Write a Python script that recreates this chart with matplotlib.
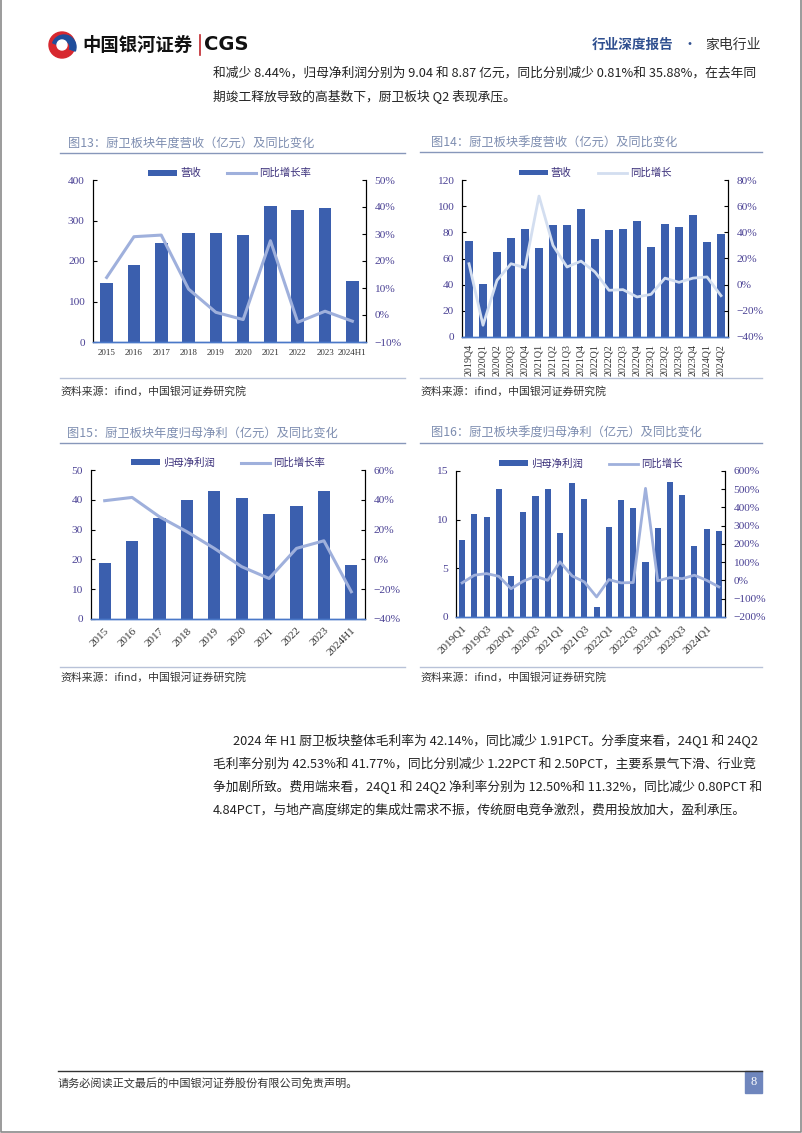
import matplotlib
matplotlib.use('Agg')
import matplotlib.pyplot as plt
import numpy as np
from matplotlib.patches import Rectangle, Wedge, Circle
from matplotlib.ticker import PercentFormatter, MultipleLocator

plt.rcParams['font.family'] = ['Noto Sans CJK SC', 'DejaVu Sans']

# ---- data ----
years = ['2015', '2016', '2017', '2018', '2019', '2020', '2021', '2022', '2023', '2024H1']
rev_year = [146, 189, 244, 268, 269, 264, 336, 327, 332, 151]
rev_year_yoy = [13.9, 29.0, 29.6, 9.6, 1.0, -1.7, 27.5, -2.7, 1.4, -2.3]

q_rev = ['2019Q4', '2020Q1', '2020Q2', '2020Q3', '2020Q4', '2021Q1', '2021Q2', '2021Q3',
         '2021Q4', '2022Q1', '2022Q2', '2022Q3', '2022Q4', '2023Q1', '2023Q2', '2023Q3',
         '2023Q4', '2024Q1', '2024Q2']
rev_q = [73.5, 40.8, 65.0, 76.0, 82.7, 68.4, 85.5, 85.5, 97.8, 74.8, 81.7, 82.7, 88.3,
         69.0, 86.0, 84.2, 93.2, 72.8, 78.9]
rev_q_yoy = [16, -31, 3.3, 16, 13, 67.7, 30, 13.5, 18, 9.7, -4.3, -3.8, -9.4, -7.4,
             5, 1.8, 5, 5.9, -8.4]

np_year = [18.7, 26.3, 33.9, 39.9, 43.0, 40.5, 35.2, 37.9, 43.0, 18.0]
np_year_yoy = [39.4, 41.6, 28.6, 18.6, 7.4, -4.9, -12.8, 7.4, 12.5, -21.7]

q_np = ['2019Q1', '2019Q2', '2019Q3', '2019Q4', '2020Q1', '2020Q2', '2020Q3', '2020Q4',
        '2021Q1', '2021Q2', '2021Q3', '2021Q4', '2022Q1', '2022Q2', '2022Q3', '2022Q4',
        '2023Q1', '2023Q2', '2023Q3', '2023Q4', '2024Q1', '2024Q2']
np_q = [7.9, 10.6, 10.3, 13.2, 4.2, 10.8, 12.4, 13.2, 8.6, 13.8, 12.1, 1.0, 9.2, 12.0,
        11.2, 5.7, 9.1, 13.9, 12.5, 7.3, 9.04, 8.87]
np_q_yoy = [-13, 29, 38, 23, -45, -4, 23, 1, 102, 25, -8, -90, 5, -13, -11, 505,
            -2, 16, 10, 29, 1, -35]

W, H = 802, 1133
BAR = '#3b5fae'
LINE = '#9fb0dc'
LINE_LIGHT = '#d3def0'
TICK = '#4a4194'
TITLE = '#7d8db0'
RULE = '#8797ba'
SERIF = 'Liberation Serif'

fig = plt.figure(figsize=(W / 100, H / 100), dpi=100)
bg = fig.add_axes([0, 0, 1, 1])
bg.set_xlim(0, W)
bg.set_ylim(H, 0)
bg.axis('off')


def px_axes(l, t, r, b):
    return fig.add_axes([l / W, 1 - b / H, (r - l) / W, (b - t) / H])


def combo(box, cats, bars, yoy, bar_lim, bar_step, pct_lim, pct_step, names,
          line_color, bar_w, rot, tick_every=1, lw=2.2):
    ax = px_axes(*box)
    x = np.arange(len(cats))
    ax.bar(x, bars, width=bar_w, color=BAR, label=names[0], zorder=2)
    ax.set_ylim(*bar_lim)
    ax.yaxis.set_major_locator(MultipleLocator(bar_step))
    ax.set_xlim(-0.5, len(cats) - 0.5)
    ax2 = ax.twinx()
    ax2.plot(x, yoy, color=line_color, lw=lw, label=names[1], zorder=3)
    ax2.set_ylim(*pct_lim)
    ax2.yaxis.set_major_locator(MultipleLocator(pct_step))
    ax2.yaxis.set_major_formatter(PercentFormatter(decimals=0))
    for a in (ax, ax2):
        a.spines['top'].set_visible(False)
        a.spines['left'].set_linewidth(0.8)
        a.spines['right'].set_linewidth(0.8)
        a.spines['bottom'].set_color('#4a78c8')
        a.spines['bottom'].set_linewidth(1.0)
        a.tick_params(axis='y', direction='in', length=3, width=0.8,
                      labelsize=8.2, labelcolor=TICK, pad=6)
        for lab in a.get_yticklabels():
            lab.set_fontfamily(SERIF)
    ax.set_xticks(x[::tick_every])
    if rot == 0:
        ax.set_xticklabels(cats[::tick_every], fontsize=6.5, family=SERIF, color='#333333')
    elif rot == 90:
        ax.set_xticklabels(cats[::tick_every], fontsize=7.2, family=SERIF, color='#333333',
                           rotation=90)
    else:
        ax.set_xticklabels(cats[::tick_every], fontsize=8, family=SERIF, color='#333333',
                           rotation=45, ha='right', rotation_mode='anchor')
    ax.tick_params(axis='x', length=0, pad=5)
    h1, l1 = ax.get_legend_handles_labels()
    h2, l2 = ax2.get_legend_handles_labels()
    leg = ax2.legend(h1 + h2, l1 + l2, ncol=2, frameon=False, fontsize=7.5,
                     loc='lower center', bbox_to_anchor=(0.5, 0.985),
                     handlelength=2.8, handleheight=0.5, columnspacing=2.5,
                     handletextpad=0.3, borderaxespad=0)
    for t in leg.get_texts():
        t.set_color('#3a2f7a')
    return ax, ax2


combo((93, 180, 366, 342), years, rev_year, rev_year_yoy, (0, 400), 100, (-10, 50), 10,
      ['营收', '同比增长率'], LINE, 0.46, 0)
combo((462, 180, 728, 337), q_rev, rev_q, rev_q_yoy, (0, 120), 20, (-40, 80), 20,
      ['营收', '同比增长'], LINE_LIGHT, 0.52, 90, lw=2.0)
combo((91, 470, 365, 619), years, np_year, np_year_yoy, (0, 50), 10, (-40, 60), 20,
      ['归母净利润', '同比增长率'], LINE, 0.44, 45)
combo((456, 471, 725, 617), q_np, np_q, np_q_yoy, (0, 15), 5, (-200, 600), 100,
      ['归母净利润', '同比增长'], LINE, 0.5, 45, tick_every=2, lw=2.0)

# ---- chart titles, rules, sources ----
titles = [
    (68, 143, 60, 405, 153, 378, 391, '图13：厨卫板块年度营收（亿元）及同比变化'),
    (431, 143, 420, 762, 152, 378, 391, '图14：厨卫板块季度营收（亿元）及同比变化'),
    (67, 433, 60, 405, 443, 667, 677, '图15：厨卫板块年度归母净利（亿元）及同比变化'),
    (431, 433, 420, 762, 443, 667, 677, '图16：厨卫板块季度归母净利（亿元）及同比变化'),
]
for tx, ty, x0, x1, ly, by, sy, txt in titles:
    bg.text(tx, ty, txt, fontsize=8.8, color=TITLE, va='center', ha='left')
    bg.plot([x0, x1], [ly, ly], color=RULE, lw=1.0)
    bg.plot([x0, x1], [by, by], color='#b8c2d8', lw=1.0)
    bg.text(x0, sy, '资料来源：ifind，中国银河证券研究院', fontsize=7.8, color='#333333',
            va='center', ha='left', style='italic')

# ---- header ----
bg.add_patch(Circle((62, 45), 13, color='#d7282f'))
bg.add_patch(Wedge((64, 47), 12, 200, 20, width=6, color='#1f4e9c'))
bg.add_patch(Circle((62, 45), 5, color='white'))
bg.text(82, 45, '中国银河证券', fontsize=13.2, fontweight='bold', color='#111111',
        va='center', ha='left')
bg.plot([200, 200], [35, 55], color='#c0272d', lw=1.2)
bg.text(204, 45, 'CGS', fontsize=14, fontweight='bold', color='#111111', va='center',
        ha='left', family='DejaVu Sans')
bg.text(592, 45, '行业深度报告', fontsize=9.8, fontweight='bold', color='#2f4f8f',
        va='center', ha='left')
bg.text(689, 45, '•', fontsize=10, color='#2f4f8f', va='center', ha='center')
bg.text(705, 45, '家电行业', fontsize=10, color='#333333', va='center', ha='left')

# ---- body text ----
body_top = ['和减少 8.44%，归母净利润分别为 9.04 和 8.87 亿元，同比分别减少 0.81%和 35.88%，在去年同',
            '期竣工释放导致的高基数下，厨卫板块 Q2 表现承压。']
for i, s in enumerate(body_top):
    bg.text(213, 73 + i * 23, s, fontsize=9.2, color='#222222', va='center', ha='left')

body = ['2024 年 H1 厨卫板块整体毛利率为 42.14%，同比减少 1.91PCT。分季度来看，24Q1 和 24Q2',
        '毛利率分别为 42.53%和 41.77%，同比分别减少 1.22PCT 和 2.50PCT，主要系景气下滑、行业竞',
        '争加剧所致。费用端来看，24Q1 和 24Q2 净利率分别为 12.50%和 11.32%，同比减少 0.80PCT 和',
        '4.84PCT，与地产高度绑定的集成灶需求不振，传统厨电竞争激烈，费用投放加大，盈利承压。']
for i, s in enumerate(body):
    bg.text(233 if i == 0 else 213, 741 + i * 23, s, fontsize=9.2, color='#222222',
            va='center', ha='left')

# ---- footer ----
bg.plot([58, 762], [1071, 1071], color='#333333', lw=1.0)
bg.text(58, 1084, '请务必阅读正文最后的中国银河证券股份有限公司免责声明。', fontsize=8,
        color='#333333', va='center', ha='left')
bg.add_patch(Rectangle((745, 1071), 17, 22, color='#6f86bd'))
bg.text(753.5, 1082, '8', fontsize=9, color='white', va='center', ha='center', family=SERIF)

# page frame
bg.plot([1, 1, 800.5, 800.5], [0, 1132, 1132, 0], color='#8a8a8a', lw=1.2)

fig.savefig('out.png', dpi=100)
